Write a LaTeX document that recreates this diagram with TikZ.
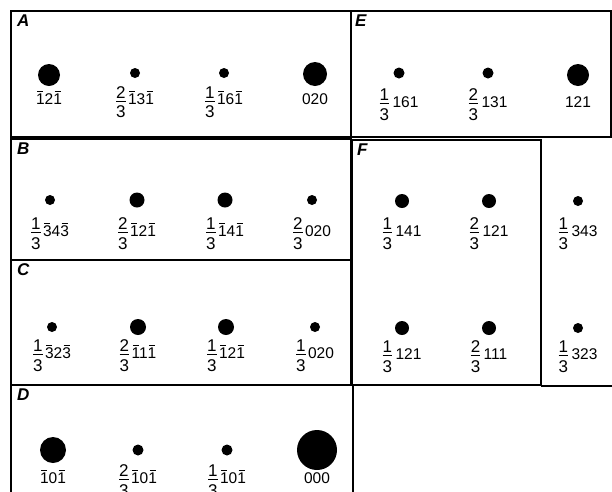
\documentclass[tikz,border=0pt]{standalone}
\usepackage{fontspec}
\setmainfont{Liberation Sans}
% barred digit and stacked fraction
\newcommand{\nb}[1]{\rlap{\raisebox{12.6pt}{\hspace{1.2pt}\rule{6.2pt}{0.8pt}}}#1}
\newcommand{\fr}[2]{{\fontsize{17}{17}\selectfont\rlap{\raisebox{6.5pt}{\makebox[9.5pt]{#1}}}\rlap{\raisebox{2.8pt}{\rule{9.5pt}{0.8pt}}}\raisebox{-13pt}{\makebox[9.5pt]{#2}}}\kern2.5pt}

\begin{document}
\begin{tikzpicture}[
    x=1pt, y=-1pt,
    dot/.style={circle, fill=black, inner sep=0pt},
    lbl/.style={anchor=base, inner sep=0pt, font=\fontsize{15.5}{18}\selectfont},
    tag/.style={anchor=north west, inner sep=0pt, font=\fontsize{17}{20}\selectfont\bfseries\itshape},
    frame/.style={line width=1.2pt}
]

\useasboundingbox (0,0) rectangle (612,491);
\clip (0,0) rectangle (612,491);

% Frames
\draw[frame] (11,11) rectangle (351,137);
\draw[frame] (351,11) rectangle (611,137);
\draw[frame] (11,139) rectangle (351,260);
\draw[frame] (11,260) rectangle (351,385);
\draw[frame] (11,495) -- (11,385) -- (353,385) -- (353,495);
\draw[frame] (352,140) rectangle (541,385);
\draw[frame] (541,386) -- (612,386);

% Panel tags
\node[tag] (tA) at (17,15) {A};
\node[tag] (tE) at (355,15) {E};
\node[tag] (tB) at (17,143) {B};
\node[tag] (tC) at (17,263) {C};
\node[tag] (tD) at (17,389) {D};
\node[tag] (tF) at (357,144) {F};

% Panel A
\foreach \n/\x/\y/\d/\t in {a1/49/75/22/{\nb{1}2\nb{1}}, a2/135/73/10/{\fr{2}{3}\nb{1}3\nb{1}},
    a3/224/73/10/{\fr{1}{3}\nb{1}6\nb{1}}, a4/315/74/24/{020}}{
  \node[dot, minimum size=\d pt] (\n) at (\x,\y) {};
  \node[lbl] (l\n) at (\x,104.5) {\t};
}

% Panel E
\foreach \n/\x/\y/\d/\t in {e1/399/73/11/{\fr{1}{3}\kern1pt161}, e2/488/73/11/{\fr{2}{3}\kern1pt131},
    e3/578/75/22/{121}}{
  \node[dot, minimum size=\d pt] (\n) at (\x,\y) {};
  \node[lbl] (l\n) at (\x,107) {\t};
}

% Panel B
\foreach \n/\x/\y/\d/\t in {b1/50/200/10/{\fr{1}{3}\nb{3}4\nb{3}}, b2/137/200/15/{\fr{2}{3}\nb{1}2\nb{1}},
    b3/225/200/15/{\fr{1}{3}\nb{1}4\nb{1}}, b4/312/200/10/{\fr{2}{3}020}}{
  \node[dot, minimum size=\d pt] (\n) at (\x,\y) {};
  \node[lbl] (l\n) at (\x,236) {\t};
}

% Panel C
\foreach \n/\x/\y/\d/\t in {c1/52/327/10/{\fr{1}{3}\nb{3}2\nb{3}}, c2/138/327/16/{\fr{2}{3}\nb{1}1\nb{1}},
    c3/226/327/16/{\fr{1}{3}\nb{1}2\nb{1}}, c4/315/327/10/{\fr{1}{3}020}}{
  \node[dot, minimum size=\d pt] (\n) at (\x,\y) {};
  \node[lbl] (l\n) at (\x,358) {\t};
}

% Panel D
\foreach \n/\x/\y/\d/\t in {d1/53/450/26/{\nb{1}0\nb{1}}, d2/138/450/11/{\fr{2}{3}\nb{1}0\nb{1}},
    d3/227/450/11/{\fr{1}{3}\nb{1}0\nb{1}}, d4/317/450/40/{000}}{
  \node[dot, minimum size=\d pt] (\n) at (\x,\y) {};
  \node[lbl] (l\n) at (\x,483) {\t};
}

% Panel F and beside it
\foreach \n/\x/\y/\b/\d/\t in {f1/402/201/236/14/{\fr{1}{3}\kern1pt141}, f2/489/201/236/14/{\fr{2}{3}\kern1pt121},
    f3/578/201/236/10/{\fr{1}{3}\kern1pt343}, f4/402/328/359/14/{\fr{1}{3}\kern1pt121},
    f5/489/328/359/14/{\fr{2}{3}\kern1pt111}, f6/578/328/359/10/{\fr{1}{3}\kern1pt323}}{
  \node[dot, minimum size=\d pt] (\n) at (\x,\y) {};
  \node[lbl] (l\n) at (\x,\b) {\t};
}

\end{tikzpicture}
\end{document}
